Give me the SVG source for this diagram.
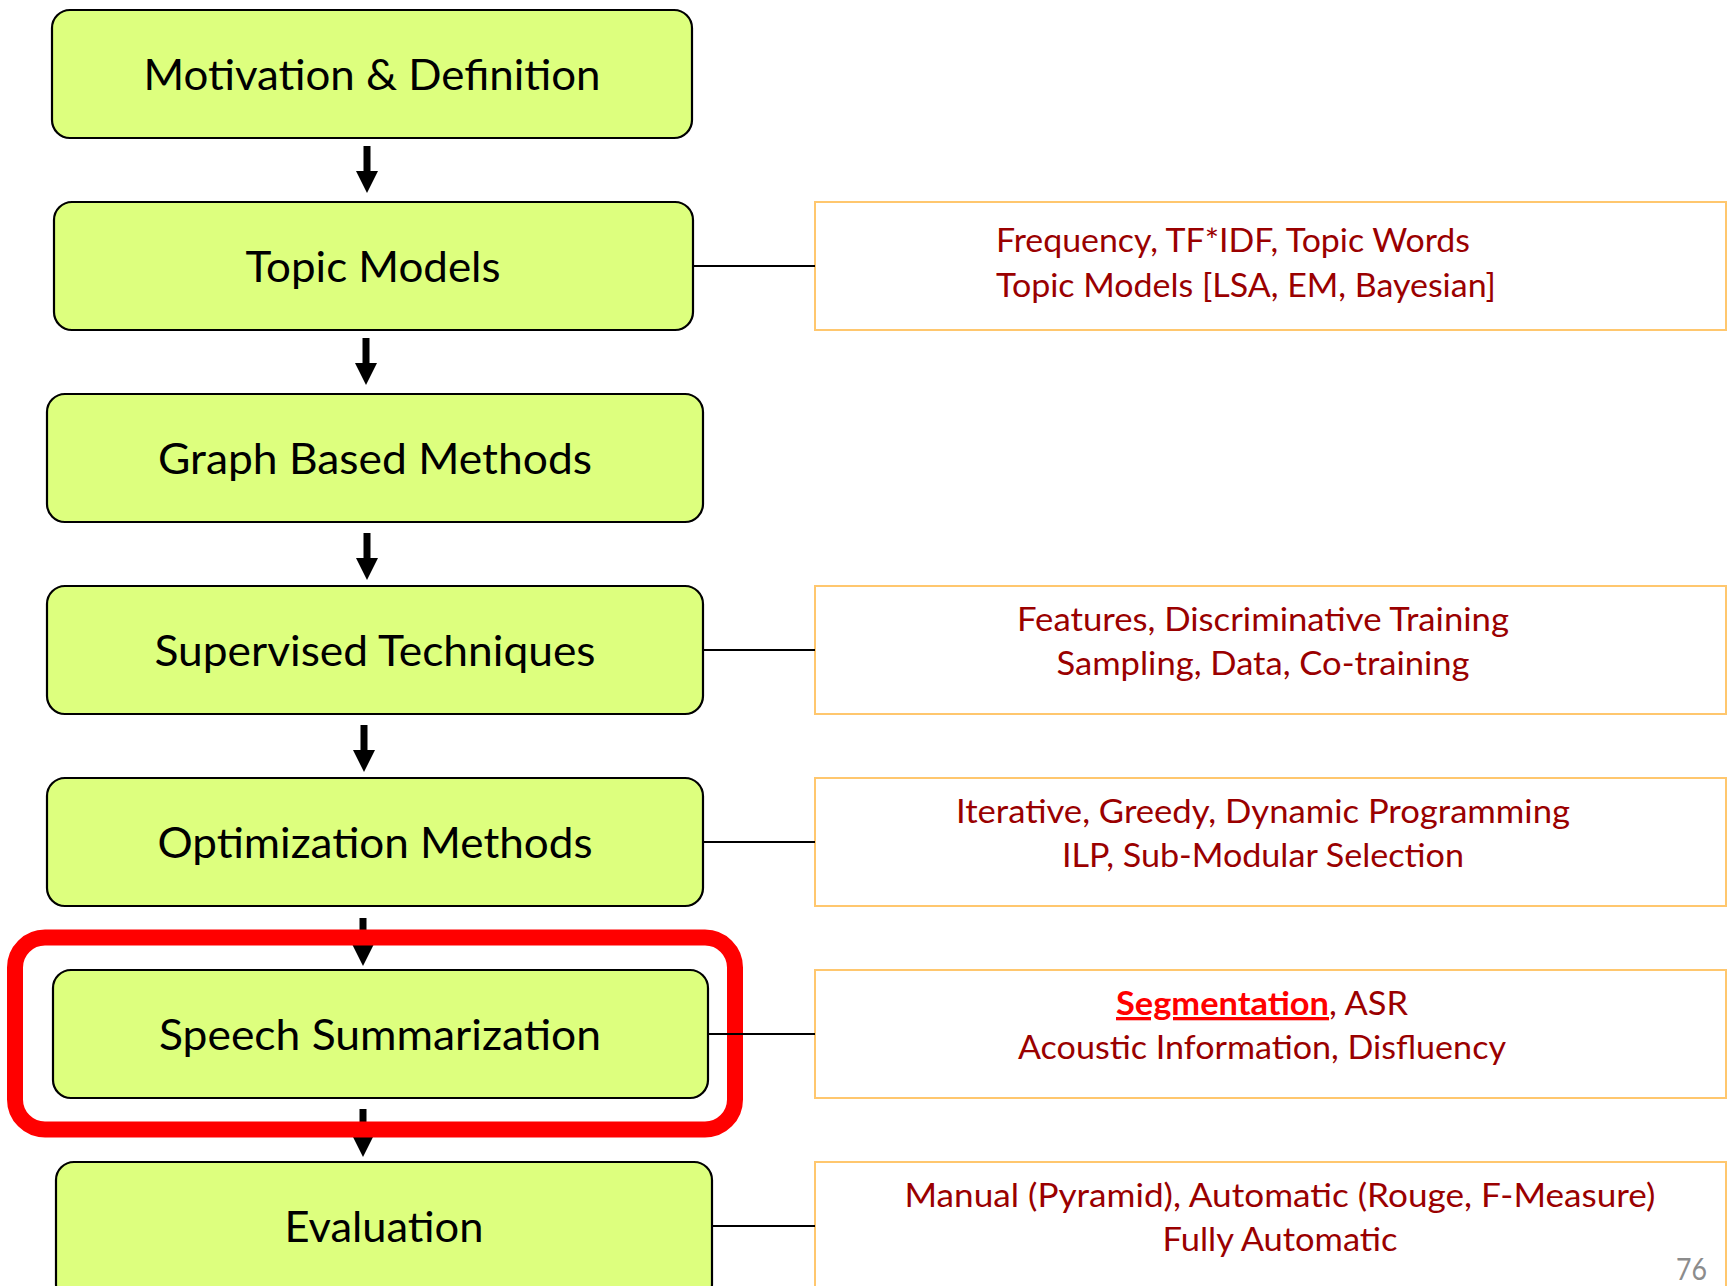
<svg xmlns="http://www.w3.org/2000/svg" width="1731" height="1286" viewBox="0 0 1731 1286">
<style>
.node{fill:#DDFF7E;stroke:#000;stroke-width:2.2}
.side{fill:#fff;stroke:#FFC76E;stroke-width:2}
.lt{font-family:Lato,"Open Sans","Liberation Sans",sans-serif;font-size:42px;fill:#000;text-anchor:middle}
.rt{font-family:Lato,"Open Sans","Liberation Sans",sans-serif;font-size:33px;fill:#9A0000;text-anchor:middle}
.shaft{stroke:#000;stroke-width:7}
.link{stroke:#000;stroke-width:2}
</style>
<defs>
<marker id="ah" markerUnits="userSpaceOnUse" markerWidth="22" markerHeight="24" refX="0" refY="11" orient="auto" viewBox="0 0 22 22" overflow="visible">
<path d="M0,0 L22,11 L0,22 Z" fill="#000"/>
</marker>
</defs>
<rect width="1731" height="1286" fill="#fff"/>

<g id="n1"><rect class="node" x="52" y="10" width="640" height="128" rx="18"/><text class="lt" x="372" y="90" textLength="457" lengthAdjust="spacingAndGlyphs">Motivation &amp; Definition</text></g>
<g id="n2"><rect class="node" x="54" y="202" width="639" height="128" rx="18"/><text class="lt" x="373" y="282" textLength="255" lengthAdjust="spacingAndGlyphs">Topic Models</text></g>
<g id="n3"><rect class="node" x="47" y="394" width="656" height="128" rx="18"/><text class="lt" x="375" y="474" textLength="434" lengthAdjust="spacingAndGlyphs">Graph Based Methods</text></g>
<g id="n4"><rect class="node" x="47" y="586" width="656" height="128" rx="18"/><text class="lt" x="375" y="666" textLength="441" lengthAdjust="spacingAndGlyphs">Supervised Techniques</text></g>
<g id="n5"><rect class="node" x="47" y="778" width="656" height="128" rx="18"/><text class="lt" x="375" y="858" textLength="435" lengthAdjust="spacingAndGlyphs">Optimization Methods</text></g>
<g id="n6"><rect class="node" x="53" y="970" width="655" height="128" rx="18"/><text class="lt" x="380" y="1050" textLength="442" lengthAdjust="spacingAndGlyphs">Speech Summarization</text></g>
<g id="n7"><rect class="node" x="56" y="1162" width="656" height="140" rx="18"/><text class="lt" x="384" y="1242" textLength="199" lengthAdjust="spacingAndGlyphs">Evaluation</text></g>

<g id="s2"><rect class="side" x="815" y="202" width="911" height="128"/>
<text class="rt" x="996" y="252" style="text-anchor:start" textLength="474" lengthAdjust="spacingAndGlyphs">Frequency, TF*IDF, Topic Words</text>
<text class="rt" x="996" y="297" style="text-anchor:start" textLength="500" lengthAdjust="spacingAndGlyphs">Topic Models [LSA, EM, Bayesian]</text></g>
<g id="s4"><rect class="side" x="815" y="586" width="911" height="128"/>
<text class="rt" x="1263" y="631" textLength="492" lengthAdjust="spacingAndGlyphs">Features, Discriminative Training</text>
<text class="rt" x="1263" y="675" textLength="413" lengthAdjust="spacingAndGlyphs">Sampling, Data, Co-training</text></g>
<g id="s5"><rect class="side" x="815" y="778" width="911" height="128"/>
<text class="rt" x="1263" y="823" textLength="614" lengthAdjust="spacingAndGlyphs">Iterative, Greedy, Dynamic Programming</text>
<text class="rt" x="1263" y="867" textLength="402" lengthAdjust="spacingAndGlyphs">ILP, Sub-Modular Selection</text></g>
<g id="s6"><rect class="side" x="815" y="970" width="911" height="128"/>
<text class="rt" x="1116" y="1015" style="text-anchor:start" textLength="292" lengthAdjust="spacingAndGlyphs"><tspan fill="#FF0000" font-weight="bold" style="text-decoration:underline">Segmentation</tspan>, ASR</text>
<text class="rt" x="1262" y="1059" textLength="488" lengthAdjust="spacingAndGlyphs">Acoustic Information, Disfluency</text></g>
<g id="s7"><rect class="side" x="815" y="1162" width="911" height="140"/>
<text class="rt" x="1280" y="1207" textLength="751" lengthAdjust="spacingAndGlyphs">Manual (Pyramid), Automatic (Rouge, F-Measure)</text>
<text class="rt" x="1280" y="1251" textLength="235" lengthAdjust="spacingAndGlyphs">Fully Automatic</text></g>

<g id="connectors">
<g id="arrows">
<line class="shaft" x1="367" y1="146" x2="367" y2="171" marker-end="url(#ah)"/>
<line class="shaft" x1="366" y1="338" x2="366" y2="363" marker-end="url(#ah)"/>
<line class="shaft" x1="367" y1="533" x2="367" y2="558" marker-end="url(#ah)"/>
<line class="shaft" x1="364" y1="725" x2="364" y2="750" marker-end="url(#ah)"/>
<line class="shaft" x1="363" y1="918" x2="363" y2="944" marker-end="url(#ah)"/>
<line class="shaft" x1="363" y1="1109" x2="363" y2="1135" marker-end="url(#ah)"/>
</g>
<g id="highlight"><rect x="15" y="937.5" width="720" height="192" rx="30" fill="none" stroke="#FF0000" stroke-width="16"/></g>
<g id="links">
<line class="link" x1="693" y1="266" x2="815" y2="266"/>
<line class="link" x1="703" y1="650" x2="815" y2="650"/>
<line class="link" x1="703" y1="842" x2="815" y2="842"/>
<line class="link" x1="708" y1="1034" x2="815" y2="1034"/>
<line class="link" x1="712" y1="1226" x2="815" y2="1226"/>
</g>
</g>
<text x="1707" y="1280" font-family="Lato,'Open Sans','Liberation Sans',sans-serif" font-size="30" fill="#8C8C8C" text-anchor="end" textLength="31" lengthAdjust="spacingAndGlyphs">76</text>
</svg>
